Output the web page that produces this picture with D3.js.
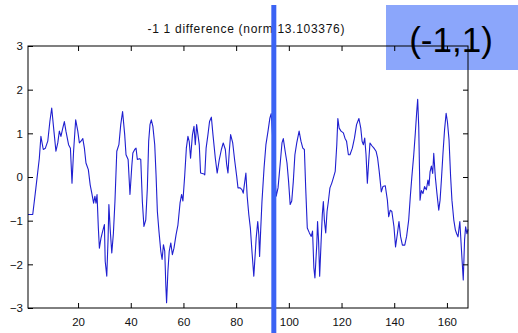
<!DOCTYPE html>
<html><head><meta charset="utf-8">
<script src="https://cdn.jsdelivr.net/npm/d3@7/dist/d3.min.js"></script>
<style>
html,body{margin:0;padding:0;background:#fff;}
svg{display:block;}
text{font-family:"Liberation Sans",Arial,sans-serif;}
</style></head>
<body>
<svg id="chart" width="518" height="333"></svg>
<script>
const titleText = "-1 1 difference (norm 13.103376)";
const labelText = "(-1,1)";
const xTicks = [20, 40, 60, 80, 100, 120, 140, 160];
const yTicks = [-3, -2, -1, 0, 1, 2, 3];
const xDomain = [1, 168];
const yDomain = [-3, 3];
const markerX = 94.3;
const lineX = [1.0,2.8,4.0,5.3,5.9,6.8,7.6,8.5,9.3,10.0,10.6,11.6,12.3,12.9,13.5,14.2,14.8,15.4,16.4,17.1,17.7,18.3,19.1,19.9,20.5,21.1,21.8,22.4,23.0,23.9,24.6,25.3,25.9,26.4,26.8,27.2,27.7,28.1,28.7,29.3,30.0,30.3,30.9,31.4,31.7,32.2,32.8,33.4,34.0,34.7,35.5,36.2,36.9,37.7,38.2,39.0,39.7,40.4,40.8,41.5,42.0,42.5,43.3,43.8,44.4,45.0,45.7,46.3,46.8,47.3,47.8,48.4,49.1,49.6,50.1,50.7,51.4,51.9,52.4,52.9,53.3,53.6,54.1,54.6,55.2,55.8,56.4,57.2,57.9,58.7,59.3,59.8,60.5,61.1,61.7,62.2,62.7,63.4,64.0,64.5,65.0,65.5,66.0,66.5,67.8,68.1,68.6,69.3,69.9,70.6,71.2,72.1,72.8,73.6,74.4,75.1,75.9,76.4,76.9,77.4,77.9,78.7,79.4,80.2,80.7,81.5,82.2,82.7,83.2,83.7,84.2,84.8,85.4,86.0,86.7,87.3,87.6,88.2,88.6,88.9,89.3,89.8,90.6,91.3,92.1,92.8,93.3,94.3,95.2,95.9,96.8,97.4,97.9,98.6,99.3,99.9,100.5,101.1,101.7,102.3,103.0,103.9,104.6,105.3,105.9,106.4,107.0,107.8,108.5,109.0,109.5,109.9,110.6,110.9,111.3,111.7,112.2,112.7,113.1,113.5,114.0,114.5,115.0,115.6,116.3,116.9,117.6,118.2,118.6,119.1,119.8,120.7,121.3,121.9,122.6,123.2,124.1,124.9,125.7,126.6,127.3,127.8,128.3,128.8,129.3,129.8,130.3,130.8,131.6,132.3,133.1,133.7,134.3,135.1,135.7,136.6,137.4,137.9,138.5,139.1,139.9,140.5,141.2,141.8,142.4,143.1,144.0,144.7,145.5,146.1,146.7,147.4,148.0,148.5,148.9,149.3,149.8,150.3,150.9,151.5,152.2,152.8,153.2,153.6,154.1,154.6,155.0,155.6,156.2,156.9,157.4,157.9,158.5,159.1,159.7,160.2,160.8,161.4,161.9,162.6,163.2,163.7,164.2,164.9,165.5,166.2,166.7,167.1,167.6,168.0];
const lineY = [-0.86,-0.86,-0.25,0.43,0.93,0.63,0.66,0.82,1.27,1.58,1.2,0.59,0.78,1.05,0.93,1.12,1.27,1.05,0.74,0.66,-0.14,0.59,1.31,1.05,0.78,0.82,0.88,0.66,0.32,0.17,-0.18,-0.4,-0.6,-0.44,-0.6,-0.4,-1.17,-1.63,-1.4,-1.25,-1.09,-1.93,-2.27,-1.4,-0.63,-1.2,-1.74,-1.3,-0.56,0.59,0.74,1.2,1.5,0.97,0.51,0.4,-0.4,0.25,0.55,0.63,0.66,0.4,0.42,0.4,-0.56,-1.13,-0.98,-0.25,0.82,1.2,1.31,1.16,0.74,0.05,-0.79,-1.24,-1.7,-1.89,-1.55,-1.7,-2.47,-2.88,-2.16,-1.7,-1.51,-1.78,-1.63,-1.32,-1.1,-0.6,-0.4,-0.55,0.05,0.66,0.93,0.81,0.43,0.96,1.16,0.74,1.2,0.97,0.74,0.09,0.07,0.05,0.66,0.97,1.27,1.37,0.97,0.43,0.09,0.4,0.63,0.78,0.63,0.29,0.09,0.59,0.97,0.78,0.4,0.02,-0.25,-0.25,-0.29,-0.37,-0.14,0.09,-0.45,-0.86,-1.17,-1.7,-2.27,-1.7,-1.4,-1.02,-1.32,-1.82,-1.24,-0.56,0.21,0.74,1.05,1.35,1.45,0.5,-0.44,-0.25,0.36,0.78,0.88,0.59,0.32,-0.1,-0.63,-0.55,-0.1,0.51,0.78,1.05,0.82,0.66,0.63,-0.25,-1.17,-1.28,-1.36,-1.24,-2.08,-2.31,-1.55,-1.02,-1.48,-2.27,-1.55,-0.86,-0.56,-1.0,-1.28,-0.79,-0.56,-0.25,-0.14,-0.02,0.13,0.74,1.34,1.12,1.05,1.01,0.89,0.82,0.51,0.51,0.66,0.89,1.2,1.34,1.12,0.82,0.74,0.89,0.51,-0.14,0.35,0.78,0.71,0.66,0.59,0.43,0.13,-0.34,-0.22,-0.2,-0.53,-0.91,-0.76,-0.79,-1.14,-1.6,-1.3,-1.02,-1.36,-1.56,-1.56,-1.36,-0.98,-0.45,0.01,0.5,1.0,1.46,1.78,1.15,-0.53,-0.31,-0.38,-0.22,-0.29,-0.07,-0.2,0.12,0.25,0.08,0.54,0.0,-0.37,-0.76,-0.53,-0.07,0.54,1.08,1.46,1.26,0.85,0.01,-0.53,-0.98,-1.21,-1.3,-1.37,-1.02,-1.65,-2.36,-1.44,-1.14,-1.3,-1.2];

const svg = d3.select("#chart");
const mLeft = 28, mRight = 468, mTop = 46, mBottom = 308;
const x = d3.scaleLinear().domain(xDomain).range([mLeft, mRight]);
const y = d3.scaleLinear().domain(yDomain).range([mBottom, mTop]);

// label box (behind axes)
svg.append("rect").attr("x", 386).attr("y", 5).attr("width", 132).attr("height", 65)
  .attr("fill", "#8ba6fb");

// data line
const pts = lineX.map((v, i) => [v, lineY[i]]);
svg.append("path").datum(pts)
  .attr("fill", "none").attr("stroke", "#1f1fd0").attr("stroke-width", 1.1)
  .attr("stroke-linejoin", "round")
  .attr("d", d3.line().x(d => x(d[0])).y(d => y(d[1])));

// axes
const fs = "11.5px";
const gL = svg.append("g").attr("transform", `translate(${mLeft},0)`)
  .call(d3.axisLeft(y).tickValues(yTicks).tickSizeInner(-5).tickSizeOuter(0).tickPadding(5).tickFormat(d3.format("d")));
const gR = svg.append("g").attr("transform", `translate(${mRight},0)`)
  .call(d3.axisRight(y).tickValues(yTicks.slice(1, -1)).tickSizeInner(-5).tickSizeOuter(0).tickFormat(""));
const gT = svg.append("g").attr("transform", `translate(0,${mTop})`)
  .call(d3.axisTop(x).tickValues(xTicks).tickSizeInner(-5).tickSizeOuter(0).tickFormat(""));
const gB = svg.append("g").attr("transform", `translate(0,${mBottom})`)
  .call(d3.axisBottom(x).tickValues(xTicks).tickSizeInner(-5).tickSizeOuter(0).tickPadding(10).tickFormat(d3.format("d")));
[gL, gR, gT, gB].forEach(g => {
  g.select(".domain").remove();
  g.selectAll("line").attr("stroke", "#000");
  g.selectAll("text").attr("fill", "#111").style("font-size", fs)
    .style("font-family", '"Liberation Sans", Arial, sans-serif');
});
svg.append("rect").attr("x", mLeft).attr("y", mTop).attr("width", mRight - mLeft).attr("height", mBottom - mTop)
  .attr("fill", "none").attr("stroke", "#000").attr("stroke-width", 1);

// title
svg.append("text").attr("x", 246).attr("y", 33).attr("text-anchor", "middle")
  .attr("textLength", 197).attr("lengthAdjust", "spacing")
  .style("font-size", "12px").attr("fill", "#111").text(titleText);

// big label
svg.append("text").attr("x", 451).attr("y", 52).attr("text-anchor", "middle")
  .style("font-size", "35px").attr("fill", "#000").text(labelText);

// vertical marker
svg.append("line").attr("x1", x(markerX)).attr("x2", x(markerX)).attr("y1", 5).attr("y2", 333)
  .attr("stroke", "#3b63f4").attr("stroke-width", 5);
</script>
</body></html>
